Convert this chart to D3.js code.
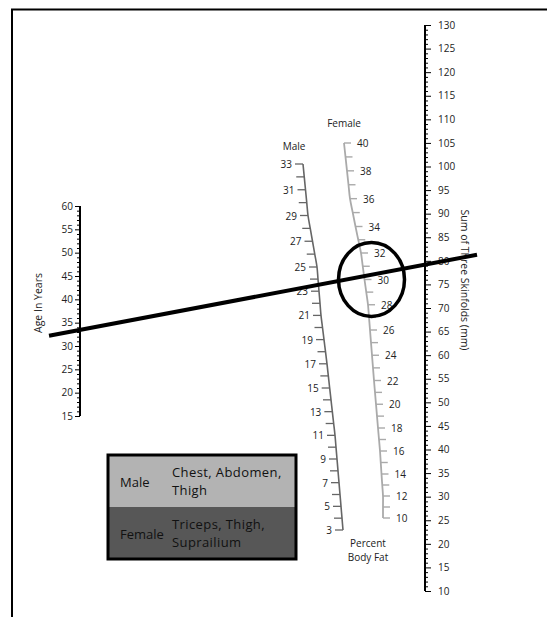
<!DOCTYPE html>
<html><head><meta charset="utf-8">
<script src="https://cdn.jsdelivr.net/npm/d3@7"></script>
<style>body{margin:0;background:#fff}svg{display:block}</style>
</head><body>
<svg id="c" width="547" height="617"></svg>
<script>
// ---- data ----
const ageExtent = [15, 60];
const ageLabels = [15, 20, 25, 30, 35, 40, 45, 50, 55, 60];
const skinfoldExtent = [10, 130];
const skinfoldLabels = [10, 15, 20, 25, 30, 35, 40, 45, 50, 55, 60, 65, 70, 75, 80, 85, 90, 95, 100, 105, 110, 115, 120, 125, 130];
const maleExtent = [3, 33];
const maleLabels = [3, 5, 7, 9, 11, 13, 15, 17, 19, 21, 23, 25, 27, 29, 31, 33];
const femaleExtent = [10, 40];
const femaleLabels = [10, 12, 14, 16, 18, 20, 22, 24, 26, 28, 30, 32, 34, 36, 38, 40];
const exampleAge = 33.45;
const exampleSkinfold = 79.2;
const exampleFemaleFat = 30;
const legendSex = ["Male", "Female"];
const legendSites = [["Chest, Abdomen,", "Thigh"], ["Triceps, Thigh,", "Suprailium"]];

// ---- scales ----
const FONT = "'Open Sans', sans-serif";
const svg = d3.select("#c");
const ageX = 80, skinX = 425;
const ageY = d3.scaleLinear().domain(ageExtent).range([416, 206]);
const skinY = d3.scaleLinear().domain(skinfoldExtent).range([591, 25]);
const maleY = d3.scaleLinear().domain([3, 15, 25, 33]).range([530, 388, 267, 164]);
const maleX = d3.scaleLinear().domain([3, 7, 11, 17, 21, 25, 29, 33]).range([343, 339, 335, 327, 321, 317, 308, 303]);
const femaleY = d3.scaleLinear().domain([10, 14, 18, 22, 26, 30, 34, 40]).range([518, 474, 428, 380.5, 330, 279.5, 226.5, 143]);
const femaleX = d3.scaleLinear().domain([10, 12, 16, 20, 24, 28, 32, 36, 38, 40]).range([383, 383, 380, 376, 372, 368, 361, 350, 347, 344]);

// frame
svg.append("path").attr("d", "M12,617 V9.5 H547").attr("fill", "none").attr("stroke", "#000").attr("stroke-width", 2);

// ---- Age axis (ticks on the left) ----
const ageAxis = d3.axisLeft(ageY).tickValues(d3.range(ageExtent[0], ageExtent[1] + 1))
  .tickSize(3).tickFormat(d => ageLabels.includes(d) ? d : "");
const ga = svg.append("g").attr("transform", `translate(${ageX},0)`).call(ageAxis);
ga.select(".domain").attr("d", `M0,${ageY(60)}V${ageY(15)}`).attr("stroke-width", 2);
ga.selectAll(".tick line").attr("stroke-width", 1).attr("x2", d => ageLabels.includes(d) ? -5 : -3);
ga.selectAll(".tick text").attr("x", -7).attr("font-size", 10).attr("font-family", FONT).attr("fill", "#222");
svg.append("text").attr("transform", `translate(38,303) rotate(-90)`).attr("text-anchor", "middle")
  .attr("dominant-baseline", "central").attr("font-size", 10.5).attr("font-family", FONT).attr("fill", "#222").text("Age In Years");

// ---- Skinfold axis (ticks on the right) ----
const skinAxis = d3.axisRight(skinY).tickValues(d3.range(skinfoldExtent[0], skinfoldExtent[1] + 1))
  .tickSize(3).tickFormat(d => skinfoldLabels.includes(d) ? d : "");
const gs = svg.append("g").attr("transform", `translate(${skinX},0)`).call(skinAxis);
gs.select(".domain").attr("d", `M0,${skinY(130)}V${skinY(10)}`).attr("stroke-width", 2);
gs.selectAll(".tick line").attr("stroke-width", 1).attr("x2", d => skinfoldLabels.includes(d) ? 6 : 3);
gs.selectAll(".tick text").attr("x", 13).attr("font-size", 10).attr("font-family", FONT).attr("fill", "#222");
svg.append("text").attr("transform", `translate(465,280) rotate(90)`).attr("text-anchor", "middle")
  .attr("dominant-baseline", "central").attr("font-size", 10.5).attr("font-family", FONT).attr("fill", "#222").text("Sum of Three Skinfolds (mm)");

// ---- Male percent body fat scale ----
const line = d3.line().x(d => d[0]).y(d => d[1]).curve(d3.curveCatmullRom);
const maleVals = d3.range(maleExtent[0], maleExtent[1] + 1);
const gm = svg.append("g");
gm.append("path").attr("d", line(maleVals.map(v => [maleX(v), maleY(v)])))
  .attr("fill", "none").attr("stroke", "#666").attr("stroke-width", 1.6);
gm.selectAll("line.t").data(maleVals).join("line")
  .attr("x1", d => maleX(d)).attr("x2", d => maleX(d) - 8)
  .attr("y1", d => maleY(d)).attr("y2", d => maleY(d))
  .attr("stroke", "#666").attr("stroke-width", 1.3);
gm.selectAll("text").data(maleLabels).join("text")
  .attr("x", d => maleX(d) - 11).attr("y", d => maleY(d)).attr("text-anchor", "end")
  .attr("dominant-baseline", "central").attr("font-size", 10).attr("font-family", FONT).attr("fill", "#222").text(d => d);
svg.append("text").attr("x", 294).attr("y", 146).attr("text-anchor", "middle").attr("dominant-baseline", "central")
  .attr("font-size", 10).attr("font-family", FONT).attr("fill", "#222").text("Male");

// ---- Female percent body fat scale ----
const femaleVals = d3.range(femaleExtent[0], femaleExtent[1] + 1);
const gf = svg.append("g");
gf.append("path").attr("d", line(femaleVals.map(v => [femaleX(v), femaleY(v)])))
  .attr("fill", "none").attr("stroke", "#aaa").attr("stroke-width", 1.8);
gf.selectAll("line.t").data(femaleVals).join("line")
  .attr("x1", d => femaleX(d)).attr("x2", d => femaleX(d) + 7)
  .attr("y1", d => femaleY(d)).attr("y2", d => femaleY(d))
  .attr("stroke", "#aaa").attr("stroke-width", 1.4);
gf.selectAll("text").data(femaleLabels).join("text")
  .attr("x", d => femaleX(d) + 13).attr("y", d => femaleY(d))
  .attr("dominant-baseline", "central").attr("font-size", 10).attr("font-family", FONT).attr("fill", "#222").text(d => d);
svg.append("text").attr("x", 344).attr("y", 123).attr("text-anchor", "middle").attr("dominant-baseline", "central")
  .attr("font-size", 10).attr("font-family", FONT).attr("fill", "#222").text("Female");
svg.append("text").attr("x", 368).attr("y", 543).attr("text-anchor", "middle").attr("dominant-baseline", "central")
  .attr("font-size", 10).attr("font-family", FONT).attr("fill", "#222").text("Percent");
svg.append("text").attr("x", 368).attr("y", 557).attr("text-anchor", "middle").attr("dominant-baseline", "central")
  .attr("font-size", 10).attr("font-family", FONT).attr("fill", "#222").text("Body Fat");

// ---- example straight-edge line + circle ----
const p1 = [ageX, ageY(exampleAge)], p2 = [skinX, skinY(exampleSkinfold)];
const slope = (p2[1] - p1[1]) / (p2[0] - p1[0]);
const xL = 49, xR = 477;
svg.append("line").attr("x1", xL).attr("y1", p1[1] + slope * (xL - p1[0]))
  .attr("x2", xR).attr("y2", p1[1] + slope * (xR - p1[0]))
  .attr("stroke", "#000").attr("stroke-width", 4);
svg.append("ellipse").attr("cx", femaleX(exampleFemaleFat) + 7).attr("cy", femaleY(exampleFemaleFat))
  .attr("rx", 33).attr("ry", 37).attr("fill", "none").attr("stroke", "#000").attr("stroke-width", 3.5);

// ---- legend ----
const lg = svg.append("g");
const lx = 108, ly = 455, lw = 188, lh = 104;
lg.append("rect").attr("x", lx).attr("y", ly).attr("width", lw).attr("height", lh / 2).attr("fill", "#b3b3b3");
lg.append("rect").attr("x", lx).attr("y", ly + lh / 2).attr("width", lw).attr("height", lh / 2).attr("fill", "#575757");
lg.append("rect").attr("x", lx).attr("y", ly).attr("width", lw).attr("height", lh).attr("fill", "none")
  .attr("stroke", "#000").attr("stroke-width", 3);
legendSex.forEach((s, i) => {
  const cy = ly + lh / 4 + i * lh / 2;
  lg.append("text").attr("x", 120).attr("y", cy + 1).attr("dominant-baseline", "central")
    .attr("font-size", 13).attr("font-family", FONT).attr("fill", "#111").text(s);
  legendSites[i].forEach((t, j) => {
    lg.append("text").attr("x", 172).attr("y", cy - 9 + j * 18).attr("dominant-baseline", "central")
      .attr("font-size", 13).attr("letter-spacing", 0.4).attr("font-family", FONT).attr("fill", "#111").text(t);
  });
});
</script>
</body></html>
